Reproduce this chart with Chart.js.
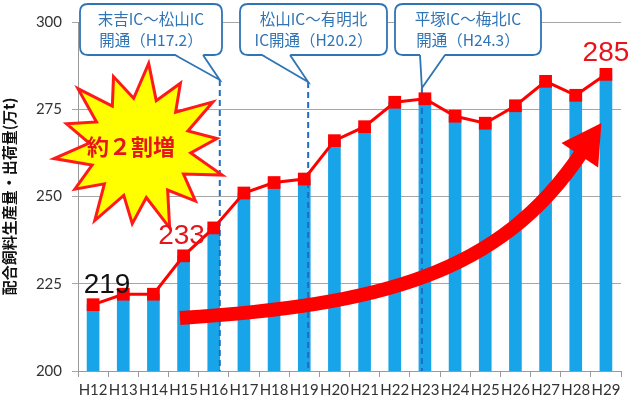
<!DOCTYPE html>
<html>
<head>
<meta charset="utf-8">
<script src="https://cdn.jsdelivr.net/npm/chart.js@4"></script>
<style>
  html, body { margin: 0; padding: 0; background: #fff; }
  #wrap { width: 630px; height: 403px; }
</style>
</head>
<body>
<div id="wrap"><canvas id="myChart" width="630" height="403"></canvas></div>
<script>
// 配合飼料生産量・出荷量 (万t)
const years = ['H12', 'H13', 'H14', 'H15', 'H16', 'H17', 'H18', 'H19', 'H20',
    'H21', 'H22', 'H23', 'H24', 'H25', 'H26', 'H27', 'H28', 'H29'];
const volumes = [219, 222, 222, 233, 241, 251, 254, 255, 266,
    270, 277, 278, 273, 271, 276, 283, 279, 285];
const yTicks = [200, 225, 250, 275, 300];

// IC opening events: position on the category axis (index units) + callout text
const openingPos = [4.2, 7.13, 10.9];
const openingText = [
    ['末吉IC～松山IC', '開通（H17.2）'],
    ['松山IC～有明北', 'IC開通（H20.2）'],
    ['平塚IC～梅北IC', '開通（H24.3）']
];
// labelled points: index, colour
const labelIdx = [0, 3, 17];
const labelColor = ['#111', '#e8141b', '#e8141b'];

const JP = '"Noto Sans CJK JP", sans-serif';
const BLUE = '#2f74b5';

function roundRect(ctx, x, y, w, h, r) {
    ctx.beginPath();
    ctx.moveTo(x + r, y);
    ctx.lineTo(x + w - r, y);
    ctx.quadraticCurveTo(x + w, y, x + w, y + r);
    ctx.lineTo(x + w, y + h - r);
    ctx.quadraticCurveTo(x + w, y + h, x + w - r, y + h);
    ctx.lineTo(x + r, y + h);
    ctx.quadraticCurveTo(x, y + h, x, y + h - r);
    ctx.lineTo(x, y + r);
    ctx.quadraticCurveTo(x, y, x + r, y);
    ctx.closePath();
}

function catX(xs, v) {
    // fractional category position
    const i = Math.floor(v);
    const a = xs.getPixelForValue(i), b = xs.getPixelForValue(i + 1);
    return a + (b - a) * (v - i);
}

const overlay = {
    id: 'overlay',
    afterDatasetDraw(chart, args) {
        if (args.index !== 1) return; // after bars, before line
        const ctx = chart.ctx, xs = chart.scales.x, ya = chart.chartArea;
        ctx.save();
        ctx.strokeStyle = '#1f6cc0';
        ctx.lineWidth = 2;
        ctx.setLineDash([6, 4]);
        const tops = [80, 82, 88];
        openingPos.forEach((p, k) => {
            const x = catX(xs, p);
            ctx.beginPath();
            ctx.moveTo(x, tops[k]);
            ctx.lineTo(x, ya.bottom);
            ctx.stroke();
        });
        ctx.restore();
    },
    afterDraw(chart) {
        const ctx = chart.ctx, xs = chart.scales.x, ys = chart.scales.y;
        ctx.save();

        // big curved arrow
        const p0 = [180, 318], c1 = [380, 305], c2 = [500, 275], p1 = [582, 152];
        ctx.strokeStyle = '#ff0000';
        ctx.lineWidth = 14;
        ctx.lineCap = 'butt';
        ctx.beginPath();
        ctx.moveTo(p0[0], p0[1]);
        ctx.bezierCurveTo(c1[0], c1[1], c2[0], c2[1], p1[0], p1[1]);
        ctx.stroke();
        let dx = p1[0] - c2[0], dy = p1[1] - c2[1];
        const len = Math.hypot(dx, dy);
        dx /= len; dy /= len;
        const tip = [p1[0] + dx * 35, p1[1] + dy * 35];
        const base = [p1[0] - dx * 4, p1[1] - dy * 4];
        ctx.fillStyle = '#ff0000';
        ctx.beginPath();
        ctx.moveTo(tip[0], tip[1]);
        ctx.lineTo(base[0] - dy * 22, base[1] + dx * 22);
        ctx.lineTo(base[0] + dy * 22, base[1] - dx * 22);
        ctx.closePath();
        ctx.fill();

        // starburst
        const cx = 140, cy = 148, n = 14;
        ctx.beginPath();
        for (let i = 0; i < n * 2; i++) {
            const a = -Math.PI / 2 + i * Math.PI / n + 0.1;
            const r = i % 2 === 0 ? (i % 4 === 0 ? 85 : 76) : 50;
            const x = cx + Math.cos(a) * r * 1.02, y = cy + Math.sin(a) * r;
            if (i === 0) ctx.moveTo(x, y); else ctx.lineTo(x, y);
        }
        ctx.closePath();
        ctx.fillStyle = '#ffff00';
        ctx.fill();
        ctx.lineWidth = 3;
        ctx.lineJoin = 'miter';
        ctx.strokeStyle = '#ff1a1a';
        ctx.stroke();
        ctx.fillStyle = '#e8141b';
        ctx.font = 'bold 22px ' + JP;
        ctx.textAlign = 'center';
        ctx.textBaseline = 'middle';
        ctx.fillText('約２割増', 131, 147);

        // data labels
        ctx.font = '28px "Liberation Sans Narrow", sans-serif';
        const offs = [[14, -19], [-2, -20], [0, -21]];
        labelIdx.forEach((i, k) => {
            const x = xs.getPixelForValue(i), y = ys.getPixelForValue(volumes[i]);
            ctx.fillStyle = labelColor[k];
            ctx.fillText(String(volumes[i]), x + offs[k][0], y + offs[k][1]);
        });

        // callouts
        const boxes = [[80, 4, 142, 51], [240, 4, 147, 51], [395, 4, 146, 51]];
        const tails = [[175, 203], [262, 290], [420, 445]];
        const tops = [80, 82, 88];
        boxes.forEach((b, k) => {
            const tipX = catX(xs, openingPos[k]);
            ctx.beginPath();
            roundRect(ctx, b[0], b[1], b[2], b[3], 8);
            ctx.fillStyle = '#ffffff';
            ctx.fill();
            ctx.lineWidth = 1.8;
            ctx.strokeStyle = BLUE;
            ctx.stroke();
            // tail
            const yb = b[1] + b[3];
            ctx.beginPath();
            ctx.moveTo(tails[k][0], yb - 1);
            ctx.lineTo(tipX, tops[k]);
            ctx.lineTo(tails[k][1], yb - 1);
            ctx.closePath();
            ctx.fillStyle = '#ffffff';
            ctx.fill();
            ctx.beginPath();
            ctx.moveTo(tails[k][0], yb);
            ctx.lineTo(tipX, tops[k]);
            ctx.lineTo(tails[k][1], yb);
            ctx.stroke();
            ctx.fillStyle = BLUE;
            ctx.font = '15.5px ' + JP;
            ctx.fillText(openingText[k][0], b[0] + b[2] / 2, b[1] + 15);
            ctx.fillText(openingText[k][1], b[0] + b[2] / 2, b[1] + 36);
        });
        ctx.restore();
    }
};

const config = {
    data: {
        labels: years,
        datasets: [{
            type: 'line',
            data: volumes,
            borderColor: '#ff0000',
            borderWidth: 3,
            backgroundColor: '#ff0000',
            pointStyle: 'rect',
            pointRadius: 9,
            pointBorderWidth: 0,
            order: 0
        }, {
            type: 'bar',
            data: volumes,
            backgroundColor: '#18a4e8',
            barThickness: 12,
            order: 1
        }]
    },
    options: {
        responsive: false,
        animation: false,
        devicePixelRatio: 1,
        layout: { padding: { top: 22, right: 1 } },
        plugins: {
            legend: { display: false },
            tooltip: { enabled: false }
        },
        scales: {
            x: {
                offset: true,
                grid: { display: true, drawOnChartArea: false, offset: true, tickLength: 6, color: '#9a9a9a' },
                border: { color: '#9a9a9a' },
                ticks: { font: { family: 'Lato', size: 15 }, color: '#333', padding: 4, maxRotation: 0, autoSkip: false },
                afterFit(s) { s.height = 32; }
            },
            y: {
                min: 200,
                max: 300,
                afterBuildTicks(s) { s.ticks = yTicks.map(v => ({ value: v })); },
                grid: { color: '#a6a6a6', tickLength: 6 },
                border: { color: '#9a9a9a' },
                ticks: { font: { family: 'Lato', size: 15 }, color: '#333', padding: 10 },
                title: {
                    display: true,
                    text: '配合飼料生産量・出荷量(万t)',
                    font: { family: 'Noto Sans CJK JP', size: 15, weight: 'bold' },
                    color: '#111',
                    padding: 0
                },
                afterFit(s) { s.width = 78; }
            }
        }
    },
    plugins: [overlay]
};

var myChart = new Chart(document.getElementById('myChart'), config);
</script>
</body>
</html>
